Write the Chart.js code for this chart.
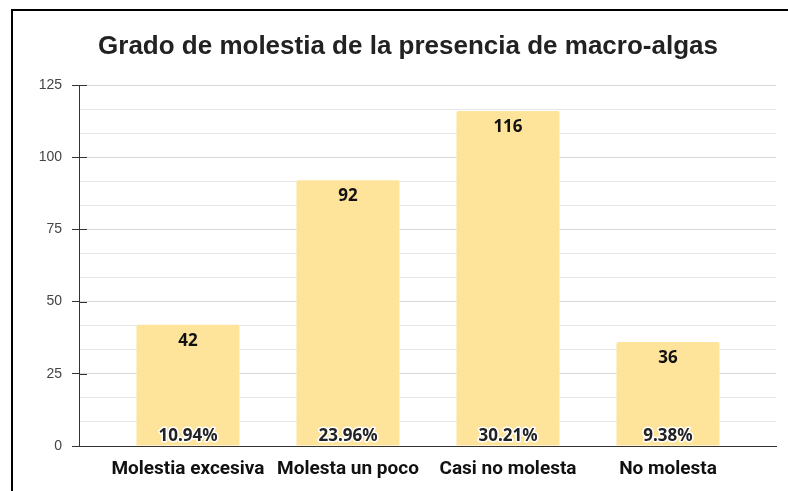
<!DOCTYPE html>
<html>
<head>
<meta charset="utf-8">
<script src="https://cdn.jsdelivr.net/npm/chart.js@4.4.1/dist/chart.umd.min.js"></script>
<style>
  body { margin: 0; background: #fff; overflow: hidden; }
  #frame {
    position: absolute; left: 11px; top: 9px; width: 800px; height: 500px;
    border-left: 2px solid #000; border-top: 2px solid #000;
  }
  #wrap { position: absolute; left: 0; top: 0; width: 788px; height: 491px; }
</style>
</head>
<body>
<div id="frame"></div>
<div id="wrap"><canvas id="chart"></canvas></div>
<script>
// ==================================================
// DATA
// ==================================================
const chartTitle = "Grado de molestia de la presencia de macro-algas";
const categories = ["Molestia excesiva", "Molesta un poco", "Casi no molesta", "No molesta"];
const counts = [42, 92, 116, 36];
const percents = ["10.94%", "23.96%", "30.21%", "9.38%"];
const yTicks = [0, 25, 50, 75, 100, 125];

// ==================================================
// PLUGINS
// ==================================================
const titlePlugin = {
  id: "titleText",
  afterDraw(chart) {
    const ctx = chart.ctx;
    ctx.save();
    ctx.font = "bold 26px 'Liberation Sans', Arial, sans-serif";
    ctx.fillStyle = "#222";
    ctx.textAlign = "center";
    ctx.textBaseline = "middle";
    ctx.fillText(chartTitle, 408, 47);
    ctx.restore();
  },
};

// small tick marks that cross the y axis line
const tickCross = {
  id: "tickCross",
  afterDatasetsDraw(chart) {
    const ctx = chart.ctx;
    const y = chart.scales.y;
    ctx.save();
    ctx.strokeStyle = "#333";
    ctx.lineWidth = 1;
    yTicks.forEach((v) => {
      const py = Math.round(y.getPixelForValue(v)) + 0.5;
      ctx.beginPath();
      ctx.moveTo(y.right, py);
      ctx.lineTo(y.right + 8, py);
      ctx.stroke();
    });
    ctx.restore();
  },
};

const barLabels = {
  id: "barLabels",
  afterDatasetsDraw(chart) {
    const ctx = chart.ctx;
    const meta = chart.getDatasetMeta(0);
    ctx.save();
    ctx.textAlign = "center";
    ctx.textBaseline = "middle";
    meta.data.forEach((bar, i) => {
      // value near the top of the bar
      ctx.font = "bold 17px 'Noto Sans', sans-serif";
      ctx.fillStyle = "#111";
      ctx.fillText(String(counts[i]), bar.x, bar.y + 16);
      // percent at the bottom with white halo
      ctx.font = "bold 17px 'Noto Sans', sans-serif";
      ctx.lineWidth = 3;
      ctx.strokeStyle = "#fff";
      ctx.lineJoin = "round";
      ctx.strokeText(percents[i], bar.x, bar.base - 9);
      ctx.fillStyle = "#222";
      ctx.fillText(percents[i], bar.x, bar.base - 9);
    });
    ctx.restore();
  },
};

// ==================================================
// CHART
// ==================================================
const ctx = document.getElementById("chart").getContext("2d");
ctx.canvas.width = 788;
ctx.canvas.height = 491;

new Chart(ctx, {
  type: "bar",
  data: {
    datasets: [
      {
        data: counts.map((v, i) => ({ x: i, y: v })),
        backgroundColor: "#FEE49B",
        borderRadius: 2,
        borderSkipped: "bottom",
        categoryPercentage: 0.644,
        barPercentage: 1,
      },
    ],
  },
  options: {
    responsive: false,
    animation: false,
    events: [],
    layout: { padding: { top: 85, right: 12, bottom: 0, left: 0 } },
    plugins: {
      legend: { display: false },
      title: { display: false },
      tooltip: { enabled: false },
    },
    scales: {
      x: {
        type: "linear",
        offset: false,
        min: -0.681,
        max: 3.675,
        afterBuildTicks: (scale) => {
          scale.ticks = categories.map((c, i) => ({ value: i }));
        },
        afterFit: (scale) => {
          scale.height = 45;
        },
        grid: { display: false, offset: false },
        border: { display: true, color: "#333", width: 1 },
        ticks: {
          autoSkip: false,
          maxRotation: 0,
          padding: 4,
          color: "#111",
          font: { family: "Roboto, 'Liberation Sans', sans-serif", size: 19, weight: "bold" },
          callback: (v) => categories[v],
        },
      },
      y: {
        min: 0,
        max: 125,
        afterBuildTicks: (scale) => {
          const t = [];
          for (let i = 0; i <= 15; i++) t.push({ value: (i * 25) / 3 });
          scale.ticks = t;
        },
        afterFit: (scale) => {
          scale.width = 79;
        },
        border: { display: true, color: "#333", width: 1 },
        grid: {
          color: (c) => (c.index % 3 === 0 ? "#d9d9d9" : "#e8e8e8"),
          tickColor: (c) => (c.index % 3 === 0 ? "#333" : "rgba(0,0,0,0)"),
          tickLength: 7,
        },
        ticks: {
          autoSkip: false,
          padding: 10,
          color: "#444",
          font: { family: "'Liberation Sans', Arial, sans-serif", size: 14 },
          callback: (v, i) => (i % 3 === 0 ? String(Math.round(v)) : ""),
        },
      },
    },
  },
  plugins: [titlePlugin, tickCross, barLabels],
});
</script>
</body>
</html>
